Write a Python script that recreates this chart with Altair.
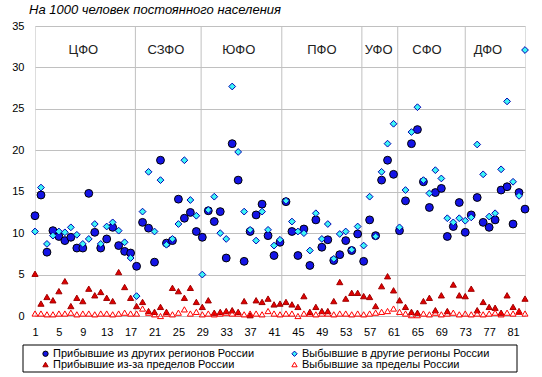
import altair as alt
import pandas as pd

FONT = "Liberation Sans"

regions = list(range(1, 84))

arrived_regions = [
    12.1, 14.6, 7.7, 10.3, 9.6, 9.1, 9.5, 8.2, 8.2, 14.8,
    10.1, 8.2, 9.3, 10.7, 8.5, 7.8, 7.6, 6.0, 11.3, 10.6,
    6.5, 18.8, 8.8, 9.1, 14.1, 11.8, 12.5, 10.2, 9.5, 12.7,
    11.4, 12.6, 7.0, 20.8, 16.4, 6.6, 10.2, 12.2, 13.5, 9.7,
    7.3, 8.9, 13.8, 10.2, 7.3, 10.5, 6.1, 11.6, 8.3, 9.2,
    6.7, 7.4, 9.1, 7.9, 9.9, 6.6, 11.6, 9.7, 16.4, 18.8,
    17.1, 10.3, 13.9, 20.8, 22.5, 16.2, 13.1, 14.9, 15.4, 9.6,
    10.8, 13.7, 10.1, 12.2, 14.3, 11.3, 10.7, 11.6, 15.2, 15.6,
    11.1, 14.9, 12.9,
]

departed_regions = [
    10.2, 15.5, 8.7, 9.7, 10.2, 10.1, 10.7, 9.8, 8.7, 9.3,
    11.1, 8.7, 10.8, 11.3, 10.3, 8.9, 7.0, 2.4, 12.6, 17.4,
    10.2, 16.4, 8.6, 9.3, 11.1, 18.8, 14.0, 12.1, 5.0, 12.8,
    14.4, 10.0, 9.3, 27.7, 19.8, 12.6, 10.4, 9.1, 12.6, 10.4,
    8.5, 9.2, 13.9, 11.4, 10.2, 10.0, 7.9, 12.4, 9.3, 11.1,
    6.9, 9.9, 10.2, 8.0, 10.8, 8.5, 14.4, 9.6, 17.4, 20.8,
    23.2, 10.7, 15.2, 22.2, 25.2, 16.4, 14.8, 17.6, 16.6, 11.8,
    11.3, 11.8, 11.5, 11.9, 20.7, 17.1, 12.0, 12.4, 17.7, 25.9,
    16.2, 14.5, 32.1,
]

arrived_abroad = [
    5.1, 1.5, 2.3, 1.9, 3.0, 4.2, 1.2, 2.2, 1.8, 3.3,
    2.5, 2.9, 2.2, 1.8, 5.3, 3.5, 2.2, 1.2, 1.7, 0.6,
    0.5, 1.1, 0.5, 3.4, 3.0, 2.2, 3.4, 1.7, 1.1, 1.9,
    0.4, 0.5, 0.6, 0.7, 0.5, 1.8, 0.1, 1.9, 1.7, 2.1,
    1.4, 1.5, 1.7, 1.4, 1.1, 2.4, 0.5, 1.1, 0.6, 0.6,
    1.8, 4.1, 2.1, 2.8, 2.8, 2.4, 2.3, 1.2, 3.6, 4.8,
    3.1, 1.9, 1.1, 0.5, 0.4, 1.8, 2.2, 0.7, 2.5, 0.6,
    3.8, 2.5, 2.4, 3.3, 0.7, 1.7, 1.1, 1.0, 0.4, 2.5,
    1.1, 0.6, 2.1,
]

departed_abroad = [
    0.3, 0.3, 0.2, 0.2, 0.3, 0.3, 0.4, 0.2, 0.3, 0.3,
    0.2, 0.3, 0.3, 0.2, 0.3, 0.4, 0.3, 0.3, 0.9, 0.4,
    0.2, 0.0, 0.3, 0.2, 0.4, 0.8, 0.3, 0.5, 0.2, 0.3,
    0.2, 0.3, 0.4, 0.3, 0.3, 0.2, 0.3, 0.3, 0.2, 0.6,
    0.3, 0.2, 0.3, 0.3, 0.0, 0.3, 0.3, 0.2, 0.3, 0.3,
    0.2, 0.3, 0.3, 0.2, 0.3, 0.2, 0.3, 0.4, 0.5, 0.6,
    0.9, 0.5, 0.3, 0.1, 0.1, 0.3, 0.2, 0.4, 0.2, 0.3,
    0.4, 0.2, 0.3, 0.2, 0.3, 0.2, 0.3, 0.4, 0.2, 0.4,
    0.3, 0.5, 0.3,
]

# drawing order
series_names = [
    "Прибывшие из других регионов России",
    "Выбывшие в другие регионы России",
    "Прибывшие из-за пределов России",
    "Выбывшие за пределы России",
]
series_marker_sizes = [62, 46, 38, 36]

# legend order (legend fills column by column)
legend_order = [series_names[0], series_names[2], series_names[1], series_names[3]]
legend_shapes = ["circle", "triangle-up", "diamond", "triangle-up"]
legend_fills = ["#1414E6", "#E00000", "#3CF5F5", "transparent"]
legend_strokes = ["#000000", "#A00000", "#0000B4", "#FF0000"]

district_names = ["ЦФО", "СЗФО", "ЮФО", "ПФО", "УФО", "СФО", "ДФО"]
district_label_x = [9.1, 22.9, 35.1, 49.0, 58.5, 66.6, 76.8]
district_label_y = [32.05] * 7
district_bounds = [17.8, 28.8, 42.3, 55.7, 61.7, 73.0]

x_ticks = list(range(1, 84, 4))
y_ticks = list(range(0, 36, 5))

rows = []
for name, sz, vals in zip(series_names, series_marker_sizes,
                          [arrived_regions, departed_regions, arrived_abroad, departed_abroad]):
    for r, v in zip(regions, vals):
        rows.append({"region": r, "value": v, "series": name, "sz": sz})
df = pd.DataFrame(rows)

xscale = alt.Scale(domain=[1, 83], nice=False, zero=False)
yscale = alt.Scale(domain=[0, 35], nice=False)

xaxis = alt.Axis(values=x_ticks, title=None, ticks=False, domain=False, grid=False,
                 labelFont=FONT, labelFontSize=11, labelColor="black",
                 labelPadding=10, labelFlush=False, labelOverlap=False)
yaxis = alt.Axis(values=y_ticks, title=None, ticks=False, domain=False, grid=True,
                 gridColor="#c0c0c0", gridWidth=1,
                 labelFont=FONT, labelFontSize=11, labelColor="black", labelPadding=11)

leg = alt.Legend(title=None, orient="none", legendX=5, legendY=322, columns=2,
                 columnPadding=34, rowPadding=-2, labelFontSize=11, labelFont=FONT,
                 labelColor="black", labelOffset=2, symbolStrokeWidth=1, padding=0,
                 symbolSize=28, labelLimit=400, gridAlign="each")

bounds_df = pd.DataFrame({"b": district_bounds})
rules = alt.Chart(bounds_df).mark_rule(color="#c0c0c0", strokeWidth=1).encode(
    x=alt.X("b:Q", scale=xscale, axis=xaxis)
)

points = alt.Chart(df).mark_point(filled=True, opacity=1, strokeWidth=1).encode(
    x=alt.X("region:Q", scale=xscale, axis=xaxis),
    y=alt.Y("value:Q", scale=yscale, axis=yaxis),
    shape=alt.Shape("series:N", scale=alt.Scale(domain=legend_order, range=legend_shapes), legend=leg),
    fill=alt.Fill("series:N", scale=alt.Scale(domain=legend_order, range=legend_fills), legend=leg),
    stroke=alt.Stroke("series:N", scale=alt.Scale(domain=legend_order, range=legend_strokes), legend=leg),
    size=alt.Size("sz:Q", scale=None),
)

lab_df = pd.DataFrame({"name": district_names, "x": district_label_x, "y": district_label_y})
labels = alt.Chart(lab_df).mark_text(font=FONT, fontSize=13, color="#222222").encode(
    x=alt.X("x:Q", scale=xscale, axis=xaxis),
    y=alt.Y("y:Q", scale=yscale, axis=yaxis),
    text="name:N",
)

frame = alt.Chart(alt.Data(values=[{"a": 1}])).mark_rect(
    fill="white", fillOpacity=0, stroke="black", strokeWidth=1
).encode(
    x=alt.value(-12), x2=alt.value(482), y=alt.value(319), y2=alt.value(346)
)

chart = alt.layer(rules, points, labels, frame).properties(
    width=490,
    height=290,
    autosize=alt.AutoSizeParams(type="none"),
    padding={"left": 35, "top": 26, "right": 17, "bottom": 61},
    title=alt.TitleParams(
        "На 1000 человек постоянного населения",
        anchor="start", frame="group", dx=-6, offset=3,
        font=FONT, fontSize=13, fontStyle="italic", fontWeight="normal", color="black",
    ),
).configure_view(stroke="black", strokeWidth=1).configure_axis(
    labelOverlap=False
).configure(background="white")

chart.save("out.html", embed_options={"renderer": "svg", "actions": False})
